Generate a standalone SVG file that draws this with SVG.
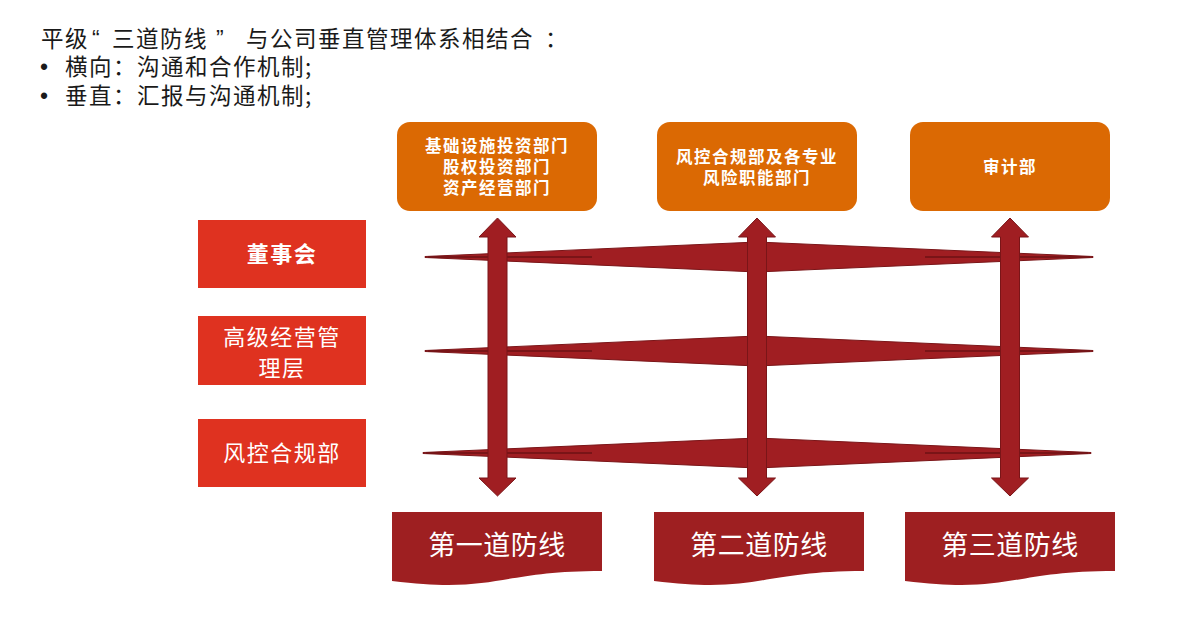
<svg xmlns="http://www.w3.org/2000/svg" width="1184" height="624" viewBox="0 0 1184 624">
<style>
.hdr{font-family:"Noto Sans CJK SC","Noto Sans",sans-serif;font-size:22.5px;fill:#1a1a1a;letter-spacing:1.5px}
.q{font-family:"Liberation Sans",sans-serif;font-size:23px;fill:#1a1a1a}
.lv{fill:#DF3220}
.lvt{font-family:"Noto Sans CJK SC",sans-serif;font-size:22px;fill:#fff;text-anchor:middle;letter-spacing:1.5px}
.dep{fill:#DB6903}
.dept{font-family:"Noto Sans CJK SC",sans-serif;font-size:16.5px;font-weight:bold;fill:#fff;text-anchor:middle;letter-spacing:1.5px}
.band{fill:#A01E22;stroke:#7A1518;stroke-width:1}
.inner{stroke:#6E1215;stroke-width:1.3}
.varr{fill:#A01E22;stroke:#7A1518;stroke-width:1}
.line{fill:#9E1F21}
.linet{font-family:"Noto Sans CJK SC",sans-serif;font-size:27px;fill:#fff;text-anchor:middle;letter-spacing:0.5px}
</style>
<g id="header">
<text class="hdr" x="41" y="47" letter-spacing="0">平级</text>
<text class="q" x="92" y="47">“</text>
<text class="hdr" x="112" y="47">三道防线</text>
<text class="q" x="216" y="47">”</text>
<text class="hdr" x="246" y="47">与公司垂直管理体系相结合</text>
<text class="hdr" x="545" y="47">：</text>
<text class="q" x="40" y="75">•</text>
<text class="hdr" x="65" y="75">横向：沟通和合作机制;</text>
<text class="q" x="40" y="104">•</text>
<text class="hdr" x="65" y="104">垂直：汇报与沟通机制;</text>
</g>
<g id="level-board"><rect class="lv" x="198" y="220" width="168" height="68"/><text class="lvt" x="282" y="262" font-weight="bold">董事会</text></g>
<g id="level-mgmt"><rect class="lv" x="198" y="316" width="168" height="69"/><text class="lvt" x="282" y="345">高级经营管</text><text class="lvt" x="282" y="376">理层</text></g>
<g id="level-risk"><rect class="lv" x="198" y="419" width="168" height="68"/><text class="lvt" x="282" y="461">风控合规部</text></g>
<g id="dept-1"><rect class="dep" x="397" y="122" width="200" height="89" rx="13"/><text class="dept" x="497" y="152">基础设施投资部门</text><text class="dept" x="497" y="173">股权投资部门</text><text class="dept" x="497" y="194">资产经营部门</text></g>
<g id="dept-2"><rect class="dep" x="657" y="122" width="200" height="89" rx="13"/><text class="dept" x="757" y="163">风控合规部及各专业</text><text class="dept" x="757" y="184">风险职能部门</text></g>
<g id="dept-3"><rect class="dep" x="910" y="122" width="200" height="89" rx="13"/><text class="dept" x="1010" y="173">审计部</text></g>
<g id="connectors">
<polygon class="band" points="425,256.5 757,242 1093,256.5 1093,257.5 757,272 425,257.5"/>
<line class="inner" x1="428" y1="257" x2="592" y2="257"/><line class="inner" x1="925" y1="257" x2="1090" y2="257"/>
<polygon class="band" points="425,350.5 757,336 1093,350.5 1093,351.5 757,366 425,351.5"/>
<line class="inner" x1="428" y1="351" x2="592" y2="351"/><line class="inner" x1="925" y1="351" x2="1090" y2="351"/>
<polygon class="band" points="423,452.5 757,438 1091,452.5 1091,453.5 757,468 423,453.5"/>
<line class="inner" x1="426" y1="453" x2="592" y2="453"/><line class="inner" x1="925" y1="453" x2="1088" y2="453"/>
<path class="varr" d="M497.5,218 L516,237 L507,237 L507,478 L516,478 L497.5,496 L479,478 L488,478 L488,237 L479,237 Z"/>
<path class="varr" d="M757,218 L775.5,237 L766.5,237 L766.5,478 L775.5,478 L757,496 L738.5,478 L747.5,478 L747.5,237 L738.5,237 Z"/>
<path class="varr" d="M1010,218 L1028.5,237 L1019.5,237 L1019.5,478 L1028.5,478 L1010,496 L991.5,478 L1000.5,478 L1000.5,237 L991.5,237 Z"/>
</g>
<g id="line-1"><path class="line" d="M392,512 H602 V571 C497,571 497,594 392,581 Z"/><text class="linet" x="497" y="555">第一道防线</text></g>
<g id="line-2"><path class="line" d="M654,512 H864 V571 C759,571 759,594 654,581 Z"/><text class="linet" x="759" y="555">第二道防线</text></g>
<g id="line-3"><path class="line" d="M905,512 H1115 V571 C1010,571 1010,594 905,581 Z"/><text class="linet" x="1010" y="555">第三道防线</text></g>
</svg>
